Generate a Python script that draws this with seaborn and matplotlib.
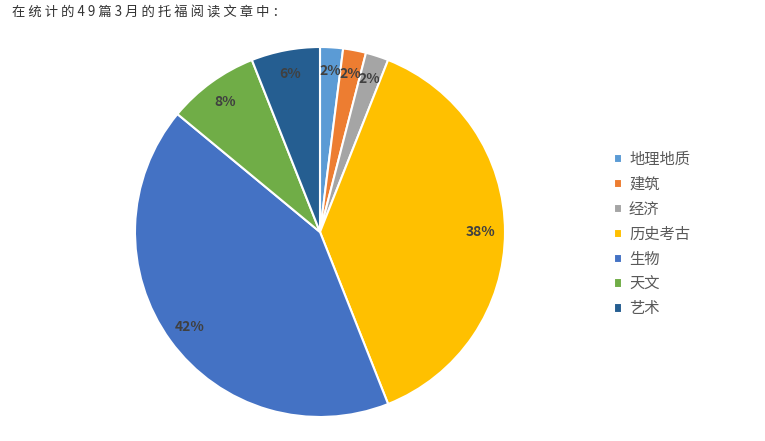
import matplotlib
matplotlib.use("Agg")
import matplotlib.pyplot as plt
import seaborn as sns

# article share by topic (percent)
topics = ["地理地质", "建筑", "经济", "历史考古", "生物", "天文", "艺术"]
shares = [2, 2, 2, 38, 42, 8, 6]
colors = ["#5B9BD5", "#ED7D31", "#A5A5A5", "#FFC000", "#4472C4", "#70AD47", "#255E91"]
title = "在统计的49篇3月的托福阅读文章中："

sns.set_theme(style="white")
plt.rcParams['font.family'] = ['Noto Sans CJK SC', 'DejaVu Sans']

fig = plt.figure(figsize=(7.65, 4.41), dpi=100)
ax = fig.add_axes([135 / 765, 24 / 441, 370 / 765, 370 / 441])

wedges, texts, autotexts = ax.pie(
    shares, colors=sns.color_palette(colors), startangle=90, counterclock=False,
    autopct="%d%%", pctdistance=0.87,
    wedgeprops=dict(edgecolor="white", linewidth=1.5),
    textprops=dict(color="#404040", fontsize=10, fontweight="bold"))
ax.set_xlim(-1, 1)
ax.set_ylim(-1, 1)
ax.set_aspect("equal")

# the original title is loosely letter-spaced
fig.text(12 / 765, 1 - 13 / 441, " ".join(title), fontsize=9.6, color="#333333",
         ha="left", va="center")

fig.legend(wedges, topics, loc="upper left", bbox_to_anchor=(600 / 765, 1 - 137 / 441),
           frameon=False, fontsize=11, labelcolor="#595959",
           handlelength=0.55, handleheight=0.55, handletextpad=0.45, labelspacing=0.52)

fig.savefig("out.png", dpi=100)
